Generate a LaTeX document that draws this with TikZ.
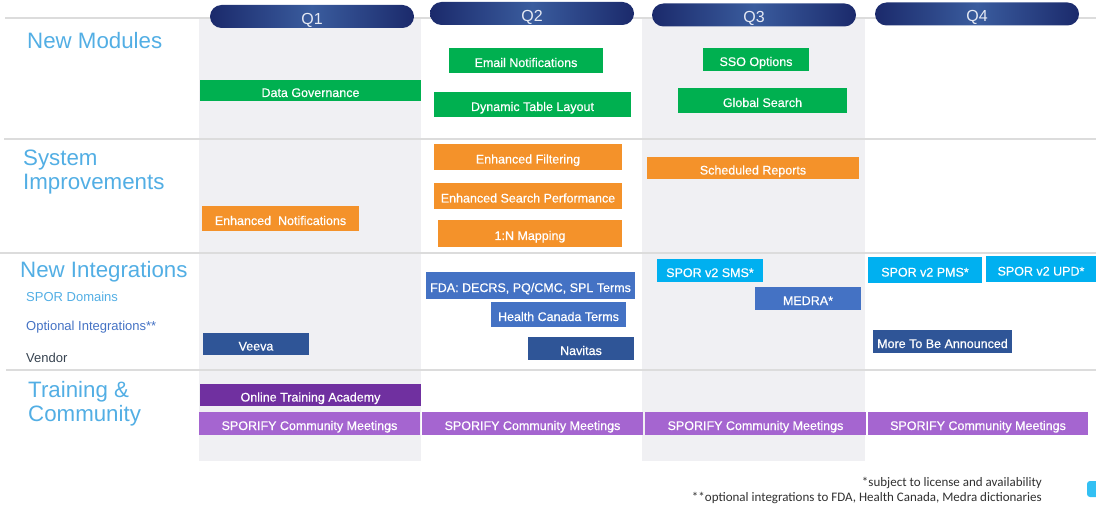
\documentclass[tikz,border=0pt]{standalone}
\usepackage{fontspec}
\setmainfont{Liberation Sans}
\newfontfamily\barfont[FakeBold=0.5]{Liberation Sans}
\newfontfamily\notefont{Carlito}
\usepackage{tikz}

\definecolor{qnavy}{HTML}{1B2A6B}
\definecolor{qmid}{HTML}{3A5C9E}
\definecolor{qtext}{HTML}{E6EAF4}
\definecolor{catblue}{HTML}{52AEE4}
\definecolor{optblue}{HTML}{4472C4}
\definecolor{vendgray}{HTML}{36424F}
\definecolor{colgray}{HTML}{F0F0F3}
\definecolor{rulegray}{HTML}{DCDCDC}
\definecolor{modgreen}{HTML}{00B050}
\definecolor{imporange}{HTML}{F4922A}
\definecolor{intblue}{HTML}{4472C4}
\definecolor{intnavy}{HTML}{2F5597}
\definecolor{sporcyan}{HTML}{00B0F0}
\definecolor{acadpurple}{HTML}{7030A0}
\definecolor{meetpurple}{HTML}{A565D0}
\definecolor{notegray}{HTML}{303030}

\begin{document}
\begin{tikzpicture}[x=1pt, y=-1pt,
		quarter/.style={rounded corners=11.5pt, left color=qnavy, right color=qnavy, middle color=qmid,
			text=qtext, minimum width=204, minimum height=23, inner sep=0, text height=16pt, text depth=0pt,
			font=\fontsize{16}{18}\selectfont},
		heading/.style={anchor=west, align=left, inner sep=0, text=catblue, font=\fontsize{22.3}{24}\selectfont},
		subheading/.style={anchor=west, inner sep=0, font=\fontsize{13}{15}\selectfont},
		bar/.style={inner sep=0, text=white, text height=13pt, text depth=0pt, font=\barfont\fontsize{12.5}{14}\selectfont},
		note/.style={anchor=east, inner sep=0, text=notegray, font=\notefont\fontsize{13}{15}\selectfont},
		rule/.style={line width=1.2pt, rulegray}]
		
		\useasboundingbox (0,0) rectangle (1096,524);
		
		\fill[colgray] (199,18) rectangle (421,461);
		\fill[colgray] (642,18) rectangle (865,461);
		\draw[rule] (5,18) -- (1096,18);
		\draw[rule] (4,139) -- (1096,139);
		\draw[rule] (0,253) -- (1096,253);
		\draw[rule] (6,370) -- (1096,370);
		
		\node[quarter] (Q1) at (312,16.5) {Q1};
		\node[quarter] (Q2) at (532,13.5) {Q2};
		\node[quarter] (Q3) at (754,15) {Q3};
		\node[quarter] (Q4) at (977,14) {Q4};
		
		\node[heading] (Modules) at (27,41) {New Modules};
		\node[heading] (Improve) at (23,172.5) {System\\Improvements};
		\node[heading] (Integr) at (20,271.5) {New Integrations};
		\node[subheading, text=catblue] (Spor) at (26,296.5) {SPOR Domains};
		\node[subheading, text=optblue] (Optional) at (26,327) {Optional Integrations**};
		\node[subheading, text=vendgray] (Vendor) at (26,357.5) {Vendor};
		\node[heading] (Training) at (28,404) {Training \&\\Community};
		
		\node[bar, fill=modgreen, minimum width=221, minimum height=21] (Gov) at (310.5,90.5) {Data Governance};
		\node[bar, fill=modgreen, minimum width=154, minimum height=25] (Email) at (526,60.5) {Email Notifications};
		\node[bar, fill=modgreen, minimum width=197, minimum height=25] (Table) at (532.5,104.5) {Dynamic Table Layout};
		\node[bar, fill=modgreen, minimum width=106, minimum height=23] (Sso) at (756,59.5) {SSO Options};
		\node[bar, fill=modgreen, minimum width=169, minimum height=25] (Search) at (762.5,100.5) {Global Search};
		
		\node[bar, fill=imporange, minimum width=157, minimum height=25] (Notif) at (280.5,218.5) {Enhanced\ \ Notifications};
		\node[bar, fill=imporange, minimum width=188, minimum height=26] (Filter) at (528,157) {Enhanced Filtering};
		\node[bar, fill=imporange, minimum width=188, minimum height=26] (Perf) at (528,196) {Enhanced Search Performance};
		\node[bar, fill=imporange, minimum width=184, minimum height=27] (Mapping) at (530,233.5) {1:N Mapping};
		\node[bar, fill=imporange, minimum width=212, minimum height=22] (Reports) at (753,168) {Scheduled Reports};
		
		\node[bar, fill=intnavy, minimum width=106, minimum height=22] (Veeva) at (256,344) {Veeva};
		\node[bar, fill=intblue, minimum width=209, minimum height=27] (Fda) at (530.5,285.5) {FDA: DECRS, PQ/CMC, SPL Terms};
		\node[bar, fill=intblue, minimum width=135, minimum height=25] (Canada) at (558.5,314.5) {Health Canada Terms};
		\node[bar, fill=intnavy, minimum width=106, minimum height=23] (Navitas) at (581,348.5) {Navitas};
		\node[bar, fill=sporcyan, minimum width=106, minimum height=23] (Sms) at (710,270.5) {SPOR v2 SMS*};
		\node[bar, fill=intblue, minimum width=106, minimum height=23] (Medra) at (808,298.5) {MEDRA*};
		\node[bar, fill=sporcyan, minimum width=114, minimum height=26] (Pms) at (925,270) {SPOR v2 PMS*};
		\node[bar, fill=sporcyan, minimum width=110, minimum height=26] (Upd) at (1041,269) {SPOR v2 UPD*};
		\node[bar, fill=intnavy, minimum width=139, minimum height=23] (More) at (942.5,341.5) {More To Be Announced};
		
		\node[bar, fill=acadpurple, minimum width=221, minimum height=22] (Academy) at (310.5,395) {Online Training Academy};
		\node[bar, fill=meetpurple, minimum width=221, minimum height=23] (Meet1) at (309.5,423.5) {SPORIFY Community Meetings};
		\node[bar, fill=meetpurple, minimum width=221, minimum height=23] (Meet2) at (532.5,423.5) {SPORIFY Community Meetings};
		\node[bar, fill=meetpurple, minimum width=221, minimum height=23] (Meet3) at (755.5,423.5) {SPORIFY Community Meetings};
		\node[bar, fill=meetpurple, minimum width=220, minimum height=23] (Meet4) at (978,423.5) {SPORIFY Community Meetings};
		
		\node[note] (License) at (1042,483) {*subject to license and availability};
		\node[note] (Dict) at (1042,498) {**optional integrations to FDA, Health Canada, Medra dictionaries};
		\fill[sporcyan!80, rounded corners=3pt] (1087,481) rectangle (1104,497);
		
	\end{tikzpicture}
\end{document}
